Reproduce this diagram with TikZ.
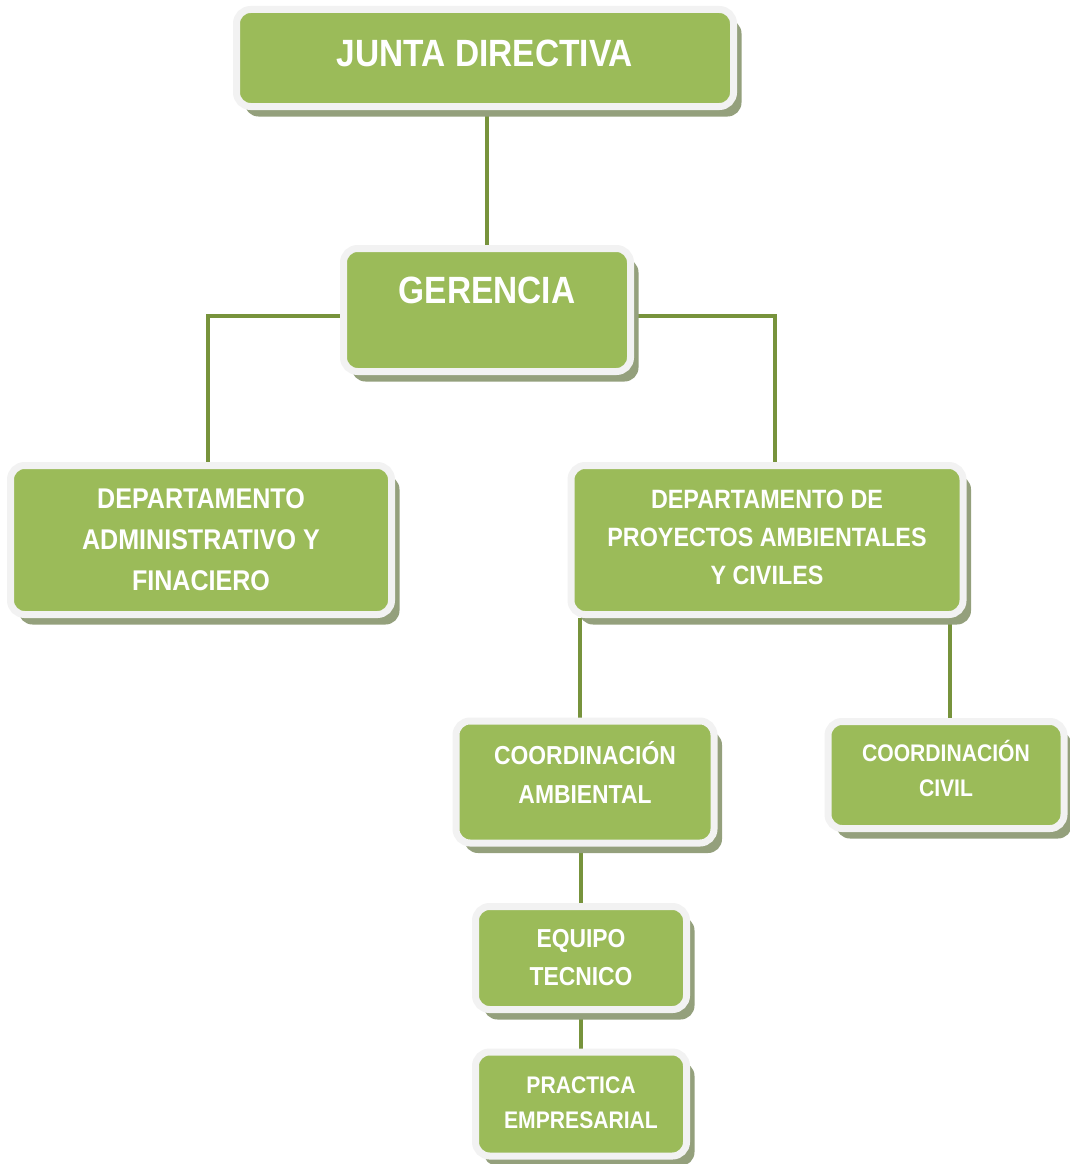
\documentclass[tikz,border=0pt]{standalone}
\usepackage{fontspec}
\usepackage{tikz}
\usetikzlibrary{positioning}
\usetikzlibrary{shadows, backgrounds}

\newfontfamily\orgfont[FakeStretch=0.88]{Liberation Sans}
\newcommand{\boxfont}[2]{\orgfont\bfseries\fontsize{#1}{#2}\selectfont}

\definecolor{boxgreen}{HTML}{9BBB59}
\definecolor{boxrim}{HTML}{F2F2F2}
\definecolor{shadegreen}{HTML}{94A07C}
\definecolor{linkgreen}{HTML}{77933C}

\tikzset{
    orgbox/.style={
        rectangle,
        rounded corners=14pt,
        fill=boxgreen,
        draw=boxrim,
        line width=7pt,
        text=white,
        align=center,
        inner sep=0pt,
        drop shadow={shadow xshift=8pt, shadow yshift=-10pt, fill=shadegreen, opacity=1}
    },
    orglink/.style={draw=linkgreen, line width=3.5pt}
}

\begin{document}
\begin{tikzpicture}[x=1pt, y=-1pt]
        \useasboundingbox (0, 0) rectangle (1070, 1164);
        \node
        [
            orgbox,
            minimum width=497pt,
            minimum height=97pt,
            text depth=10pt,
            font=\boxfont{38pt}{55pt}
        ] (junta) at (485, 58) {JUNTA DIRECTIVA};
        \node
        [
            orgbox,
            minimum width=287pt,
            minimum height=123pt,
            text depth=40pt,
            font=\boxfont{38pt}{55pt}
        ] (gerencia) at (487, 310) {GERENCIA};
        \node
        [
            orgbox,
            minimum width=381pt,
            minimum height=149pt,
            font=\boxfont{28.5pt}{41pt}
        ] (admin) at (201, 540) {DEPARTAMENTO\\ADMINISTRATIVO Y\\FINACIERO};
        \node
        [
            orgbox,
            minimum width=392pt,
            minimum height=149pt,
            text depth=6pt,
            font=\boxfont{26.5pt}{38pt}
        ] (proyectos) at (767, 540) {DEPARTAMENTO DE\\PROYECTOS AMBIENTALES\\Y CIVILES};
        \node
        [
            orgbox,
            minimum width=258pt,
            minimum height=122pt,
            text depth=20pt,
            font=\boxfont{26pt}{39pt}
        ] (ambiental) at (585, 782) {COORDINACIÓN\\AMBIENTAL};
        \node
        [
            orgbox,
            minimum width=236pt,
            minimum height=107pt,
            text depth=14pt,
            font=\boxfont{24pt}{35pt}
        ] (civil) at (946, 775) {COORDINACIÓN\\CIVIL};
        \node
        [
            orgbox,
            minimum width=211pt,
            minimum height=103pt,
            font=\boxfont{26pt}{38pt}
        ] (equipo) at (581, 958) {EQUIPO\\TECNICO};
        \node
        [
            orgbox,
            minimum width=211pt,
            minimum height=104pt,
            text depth=3pt,
            font=\boxfont{24pt}{35pt}
        ] (practica) at (581, 1104) {PRACTICA\\EMPRESARIAL};
        \begin{scope}[on background layer]
            \draw[orglink] (gerencia.north |- junta.south) -- (gerencia.north);
            \draw[orglink] ([yshift=-6pt]gerencia.west) -| ([xshift=7pt]admin.north);
            \draw[orglink] ([yshift=-6pt]gerencia.east) -| ([xshift=8pt]proyectos.north);
            \draw[orglink] ([xshift=-5pt]ambiental.north |- proyectos.south) -- ([xshift=-5pt]ambiental.north);
            \draw[orglink] ([xshift=4pt]civil.north |- proyectos.south) -- ([xshift=4pt]civil.north);
            \draw[orglink] (equipo.north |- ambiental.south) -- (equipo.north);
            \draw[orglink] (equipo.south) -- (practica.north);
        \end{scope}
    \end{tikzpicture}
\end{document}
